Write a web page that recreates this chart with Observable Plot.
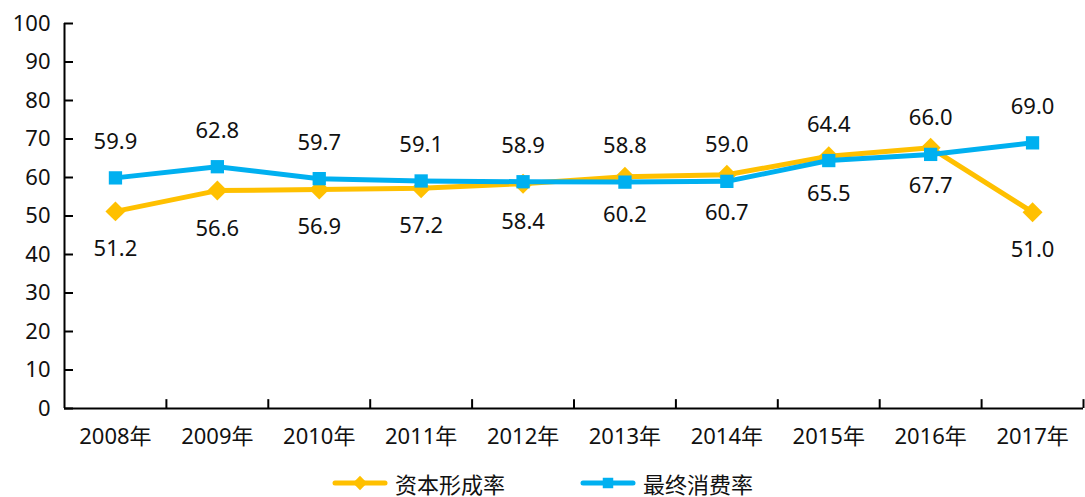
<!DOCTYPE html>
<html>
<head>
<meta charset="utf-8">
<script src="https://cdn.jsdelivr.net/npm/d3@7"></script>
<script src="https://cdn.jsdelivr.net/npm/@observablehq/plot@0.6"></script>
<style>
  html, body { margin: 0; padding: 0; background: #fff; }
  #chart { width: 1085px; height: 470px; }
  #chart svg { display: block; }
  .legend { display: flex; justify-content: center; align-items: center; height: 26px; gap: 75px;
    font-family: "Noto Sans CJK SC", "Noto Sans", sans-serif; font-size: 22px; line-height: 1; color: #111; }
  .legend .item { display: flex; align-items: center; gap: 7px; }
  .legend span { line-height: 1; display: block; }
  .legend svg { display: block; }
</style>
</head>
<body>
<div id="chart"></div>
<script>
const years = [2008, 2009, 2010, 2011, 2012, 2013, 2014, 2015, 2016, 2017];
const capitalRate = [51.2, 56.6, 56.9, 57.2, 58.4, 60.2, 60.7, 65.5, 67.7, 51.0];
const consumptionRate = [59.9, 62.8, 59.7, 59.1, 58.9, 58.8, 59.0, 64.4, 66.0, 69.0];
const yTicks = [0, 10, 20, 30, 40, 50, 60, 70, 80, 90, 100];
const seriesNames = ["资本形成率", "最终消费率"];
const colors = ["#FFC000", "#00B0F0"];

const capData = years.map((y, i) => ({year: y, value: capitalRate[i]}));
const conData = years.map((y, i) => ({year: y, value: consumptionRate[i]}));

const plot = Plot.plot({
  width: 1085,
  height: 470,
  marginLeft: 64,
  marginRight: 2,
  marginTop: 23,
  marginBottom: 62,
  style: {fontFamily: "'Noto Sans', 'Noto Sans CJK SC', sans-serif", fontSize: "22px", color: "#111", background: "#fff"},
  x: {type: "linear", domain: [years[0] - 0.5, years[years.length - 1] + 0.5]},
  y: {domain: [0, 100]},
  marks: [
    Plot.axisY(yTicks, {tickSize: 9, dx: 9, tickPadding: 14, label: null, stroke: "#000", strokeWidth: 2}),
    Plot.axisX(years, {tickSize: 0, tickPadding: 20, tickFormat: d => `${d}年`, label: null}),
    Plot.ruleX(years, {x: d => d + 0.5, y1: 0, y2: 2.3, stroke: "#000", strokeWidth: 2}),
    Plot.ruleX([years[0] - 0.5], {stroke: "#000", strokeWidth: 2}),
    Plot.ruleY([0], {stroke: "#000", strokeWidth: 2}),
    Plot.line(capData, {x: "year", y: "value", stroke: colors[0], strokeWidth: 5, strokeLinejoin: "round"}),
    Plot.dot(capData, {x: "year", y: "value", symbol: "diamond2", r: 9, fill: colors[0], stroke: "none"}),
    Plot.line(conData, {x: "year", y: "value", stroke: colors[1], strokeWidth: 5, strokeLinejoin: "round"}),
    Plot.dot(conData, {x: "year", y: "value", symbol: "square", r: 7.5, fill: colors[1], stroke: "none"}),
    Plot.text(conData, {x: "year", y: "value", text: d => d.value.toFixed(1), dy: -36, fill: "#111"}),
    Plot.text(capData, {x: "year", y: "value", text: d => d.value.toFixed(1), dy: 38, fill: "#111"})
  ]
});
document.getElementById("chart").appendChild(plot);

// Legend
const legend = d3.select("body").append("div").attr("class", "legend");
const symbols = [d3.symbolDiamond2, d3.symbolSquare];
seriesNames.forEach((name, i) => {
  const item = legend.append("div").attr("class", "item");
  const svg = item.append("svg").attr("width", 56).attr("height", 20);
  svg.append("line").attr("x1", 3).attr("x2", 53).attr("y1", 10).attr("y2", 10)
    .attr("stroke", colors[i]).attr("stroke-width", 5).attr("stroke-linecap", "round");
  svg.append("path").attr("d", d3.symbol(symbols[i], i === 0 ? 130 : 110)())
    .attr("transform", "translate(28,10)").attr("fill", colors[i]);
  item.append("span").text(name);
});
</script>
</body>
</html>
